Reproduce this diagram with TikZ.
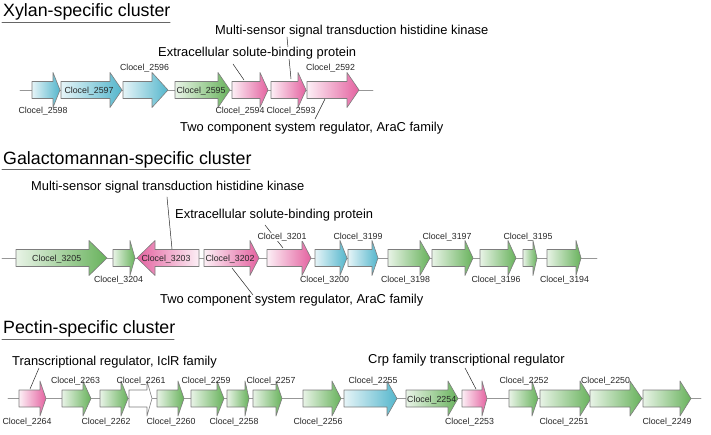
\documentclass[tikz,border=0pt]{standalone}
\usepackage{fontspec}
\setmainfont{Liberation Sans}
\usepackage{tikz}

\definecolor{genecyan}{RGB}{84,182,204}
\definecolor{genepink}{RGB}{228,98,160}
\definecolor{genegreen}{RGB}{104,178,92}
\definecolor{geneline}{RGB}{125,125,125}

% gene arrow: start, head, tip, row, style
\newcommand{\gene}[5]{%
  \draw[#5] (#1,#4-8.5) -- (#2,#4-8.5) -- (#2,#4-17.5) -- (#3,#4) -- (#2,#4+17.5) -- (#2,#4+8.5) -- (#1,#4+8.5) -- cycle;}

\begin{document}
\begin{tikzpicture}[line cap=round,line join=round,x=1pt,y=-1pt,
	genebox/.style={draw=geneline,line width=0.6pt},
	cyanR/.style={genebox,left color=genecyan!15!white,right color=genecyan},
	pinkR/.style={genebox,left color=genepink!10!white,right color=genepink},
	pinkL/.style={genebox,left color=genepink,right color=genepink!10!white},
	greenR/.style={genebox,left color=genegreen!15!white,right color=genegreen},
	plaingene/.style={genebox,fill=white},
	backbone/.style={draw=geneline!80,line width=0.7pt},
	rule/.style={draw=black!60,line width=1pt},
	leader/.style={draw=black!85,line width=0.5pt},
	heading/.style={anchor=base west,inner sep=0pt,font=\fontsize{17.8}{20}\selectfont},
	note/.style={anchor=base west,inner sep=0pt,font=\fontsize{12.9}{15}\selectfont},
	locus/.style={anchor=base,inner sep=0pt,text=black!85,font=\fontsize{8.8}{10}\selectfont}]
	\useasboundingbox (0,0) rectangle (711,435);

	% Xylan
	\node[heading] (xyltitle) at (3,17) {Xylan-specific cluster};
	\draw[rule] (2,22.3) -- (170,22.3);
	\draw[backbone] (20,90) -- (373,90);
	\gene{32}{53}{60}{90}{cyanR}
	\gene{61}{110}{122}{90}{cyanR}
	\gene{123}{152}{168}{90}{cyanR}
	\gene{175}{218}{230}{90}{greenR}
	\gene{232}{260}{268}{90}{pinkR}
	\gene{271}{298}{306}{90}{pinkR}
	\gene{307}{347}{359}{90}{pinkR}
	\node[locus] (x2598) at (43,114) {Clocel\_2598};
	\node[locus] (x2597) at (89,93.5) {Clocel\_2597};
	\node[locus] (x2596) at (144.5,71) {Clocel\_2596};
	\node[locus] (x2595) at (201,93.5) {Clocel\_2595};
	\node[locus] (x2594) at (240,114) {Clocel\_2594};
	\node[locus] (x2593) at (291,114) {Clocel\_2593};
	\node[locus] (x2592) at (330.5,71) {Clocel\_2592};
	\coordinate (xmsA) at (287,37);
	\coordinate (xmsB) at (291,79);
	\coordinate (xesA) at (233,64);
	\coordinate (xesB) at (244,80);
	\coordinate (xtcA) at (325,99);
	\coordinate (xtcB) at (315,119);
	\draw[leader] (xmsA) -- (xmsB);
	\draw[leader] (xesA) -- (xesB);
	\draw[leader] (xtcA) -- (xtcB);
	\node[note] (xms) at (215,35) {Multi-sensor signal transduction histidine kinase};
	\node[note,fill=white] (xes) at (158,56.5) {Extracellular solute-binding protein};
	\node[note] (xtc) at (180,132) {Two component system regulator, AraC family};

	% Galactomannan
	\node[heading] (galtitle) at (3,165) {Galactomannan-specific cluster};
	\draw[rule] (2,170) -- (250,170);
	\draw[backbone] (2,258) -- (597,258);
	\gene{16}{89}{107}{258}{greenR}
	\gene{113}{130}{135}{258}{greenR}
	\gene{199}{155}{137}{258}{pinkL}
	\gene{204}{250}{259}{258}{pinkR}
	\gene{267}{302}{311}{258}{pinkR}
	\gene{315}{340}{347}{258}{cyanR}
	\gene{348}{372}{378}{258}{cyanR}
	\gene{388}{420}{430}{258}{greenR}
	\gene{432}{465}{473}{258}{greenR}
	\gene{480}{508}{516}{258}{greenR}
	\gene{523}{533}{537}{258}{greenR}
	\gene{547}{576}{581}{258}{greenR}
	\coordinate (gmsA) at (167,197);
	\coordinate (gmsB) at (172,249);
	\coordinate (gesA) at (265,225);
	\coordinate (gesB) at (283,248);
	\coordinate (gtcA) at (232,268);
	\coordinate (gtcB) at (253,295);
	\draw[leader] (gmsA) -- (gmsB);
	\draw[leader] (gesA) -- (gesB);
	\draw[leader] (gtcA) -- (gtcB);
	\node[locus] (g3205) at (56.7,261.5) {Clocel\_3205};
	\node[locus] (g3204) at (118.5,283) {Clocel\_3204};
	\node[locus] (g3203) at (166,261.5) {Clocel\_3203};
	\node[locus] (g3202) at (230,261.5) {Clocel\_3202};
	\node[locus,fill=white] (g3201) at (282,239.5) {Clocel\_3201};
	\node[locus] (g3200) at (324.5,283) {Clocel\_3200};
	\node[locus] (g3199) at (358,239.5) {Clocel\_3199};
	\node[locus] (g3198) at (405.5,283) {Clocel\_3198};
	\node[locus] (g3197) at (447,239.5) {Clocel\_3197};
	\node[locus] (g3196) at (496,283) {Clocel\_3196};
	\node[locus] (g3195) at (528,239.5) {Clocel\_3195};
	\node[locus] (g3194) at (564.5,283) {Clocel\_3194};
	\node[note] (gms) at (31,191) {Multi-sensor signal transduction histidine kinase};
	\node[note] (ges) at (175,218.3) {Extracellular solute-binding protein};
	\node[note] (gtc) at (160,303) {Two component system regulator, AraC family};

	% Pectin
	\node[heading] (pectitle) at (3,333.3) {Pectin-specific cluster};
	\draw[rule] (2,339.3) -- (174,339.3);
	\draw[backbone] (8,398.5) -- (701,398.5);
	\gene{19}{40}{46}{398.5}{pinkR}
	\gene{62}{83}{91}{398.5}{greenR}
	\gene{100}{121}{128}{398.5}{greenR}
	\gene{129}{147}{152}{398.5}{plaingene}
	\gene{157}{178}{184}{398.5}{greenR}
	\gene{191}{217}{224}{398.5}{greenR}
	\gene{227}{245}{249}{398.5}{greenR}
	\gene{253}{276}{282}{398.5}{greenR}
	\gene{303}{332}{341}{398.5}{greenR}
	\gene{344}{387}{397}{398.5}{cyanR}
	\gene{406}{448}{458}{398.5}{greenR}
	\gene{462}{482}{487}{398.5}{pinkR}
	\gene{509}{532}{538}{398.5}{greenR}
	\gene{540}{580}{591}{398.5}{greenR}
	\gene{590}{630}{642}{398.5}{greenR}
	\gene{643}{680}{691}{398.5}{greenR}
	\node[locus] (p2264) at (27,424) {Clocel\_2264};
	\node[locus] (p2263) at (75.5,383.5) {Clocel\_2263};
	\node[locus] (p2262) at (106,424) {Clocel\_2262};
	\node[locus] (p2261) at (141,383.5) {Clocel\_2261};
	\node[locus] (p2260) at (171,424) {Clocel\_2260};
	\node[locus] (p2259) at (206,383.5) {Clocel\_2259};
	\node[locus] (p2258) at (234,424) {Clocel\_2258};
	\node[locus] (p2257) at (271,383.5) {Clocel\_2257};
	\node[locus] (p2256) at (318,424) {Clocel\_2256};
	\node[locus] (p2255) at (373,383.5) {Clocel\_2255};
	\node[locus] (p2254) at (431.7,402) {Clocel\_2254};
	\node[locus] (p2253) at (469.5,424) {Clocel\_2253};
	\node[locus] (p2252) at (524,383.5) {Clocel\_2252};
	\node[locus] (p2251) at (564,424) {Clocel\_2251};
	\node[locus] (p2250) at (605.5,383.5) {Clocel\_2250};
	\node[locus] (p2249) at (667,424) {Clocel\_2249};
	\coordinate (ptrA) at (39,368);
	\coordinate (ptrB) at (30,389);
	\coordinate (pcrA) at (465,368);
	\coordinate (pcrB) at (476,389);
	\draw[leader] (ptrA) -- (ptrB);
	\draw[leader] (pcrA) -- (pcrB);
	\node[note] (ptr) at (12,365) {Transcriptional regulator, IclR family};
	\node[note] (pcr) at (368,363) {Crp family transcriptional regulator};
\end{tikzpicture}
\end{document}
